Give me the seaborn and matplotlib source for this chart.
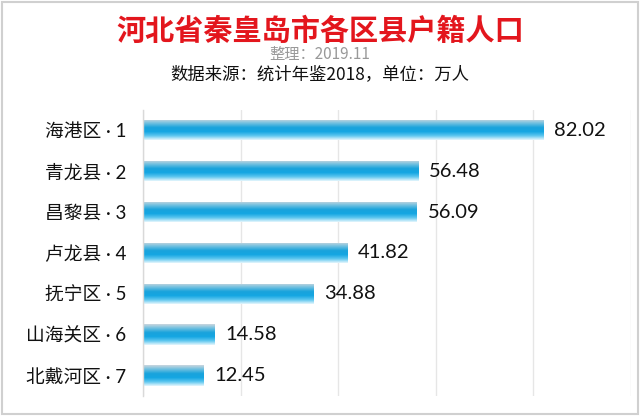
import numpy as np
import pandas as pd
import matplotlib
matplotlib.use("Agg")
import matplotlib.pyplot as plt
import seaborn as sns
from matplotlib.colors import LinearSegmentedColormap

districts = ["海港区", "青龙县", "昌黎县", "卢龙县", "抚宁区", "山海关区", "北戴河区"]
ranks = [1, 2, 3, 4, 5, 6, 7]
population = [82.02, 56.48, 56.09, 41.82, 34.88, 14.58, 12.45]
xticks = [0, 20, 40, 60, 80, 100]

labels = [f"{d} · {r}" for d, r in zip(districts, ranks)]
df = pd.DataFrame({"label": labels, "pop": population})

sns.set_theme(style="white")
plt.rcParams["font.family"] = ["Noto Sans CJK SC", "DejaVu Sans"]
latin_first = ["Lato", "Noto Sans CJK SC"]

fig = plt.figure(figsize=(6.4, 4.16), dpi=100)
ax = fig.add_axes([0.2234, 0.048, 0.7625, 0.688])

sns.barplot(data=df, x="pop", y="label", orient="h", width=0.5,
            color="#1aa8e2", ax=ax)

# gradient fill across each bar's thickness
grad = LinearSegmentedColormap.from_list(
    "bar", ["#e4f6fd", "#5cc6ef", "#14a6e2", "#1aa3dc", "#6cbfe0", "#c9d6de"])
g = np.linspace(0, 1, 64).reshape(-1, 1)
for p in ax.patches:
    x0, y0 = p.get_x(), p.get_y()
    w, h = p.get_width(), p.get_height()
    im = ax.imshow(g, cmap=grad, aspect="auto", extent=[x0, x0 + w, y0, y0 + h],
                   origin="upper", zorder=p.get_zorder() + 0.1, interpolation="bilinear")
    im.set_clip_path(p)
    p.set_alpha(0)

for p, v in zip(ax.patches, population):
    ax.text(p.get_x() + p.get_width() + 2.2, p.get_y() + p.get_height() / 2,
            f"{v:.2f}", va="center", ha="left", fontsize=14.5, color="#111111",
            family=latin_first)

ax.set_xlim(0, 100)
ax.set_ylim(6.5, -0.5)
ax.set_xticks(xticks)
ax.set_xticklabels([])
ax.tick_params(axis="x", length=0)
ax.tick_params(axis="y", length=0, labelsize=13.5, labelcolor="#111111", pad=12)
for t in ax.get_yticklabels():
    t.set_family(latin_first)
ax.xaxis.grid(True, color="#e6e6e6", linewidth=1)
ax.set_axisbelow(True)
ax.set_xlabel("")
ax.set_ylabel("")
for s in ["top", "right", "bottom"]:
    ax.spines[s].set_visible(False)
ax.spines["left"].set_color("#d9d9d9")
ax.spines["left"].set_linewidth(1)

fig.text(0.5, 0.925, "河北省秦皇岛市各区县户籍人口", ha="center", va="center",
         fontsize=21, fontweight="bold", color="#e3161d")
fig.text(0.5, 0.87, "整理：2019.11", ha="center", va="center",
         fontsize=11, color="#999999")
fig.text(0.5, 0.822, "数据来源：统计年鉴2018，单位：万人", ha="center", va="center",
         fontsize=12.5, color="#111111")

fig.patches.append(plt.Rectangle((0.003, 0.004), 0.994, 0.992, transform=fig.transFigure,
                                 fill=False, edgecolor="#d0d0d0", linewidth=1.5))

fig.savefig("out.png", dpi=100)
